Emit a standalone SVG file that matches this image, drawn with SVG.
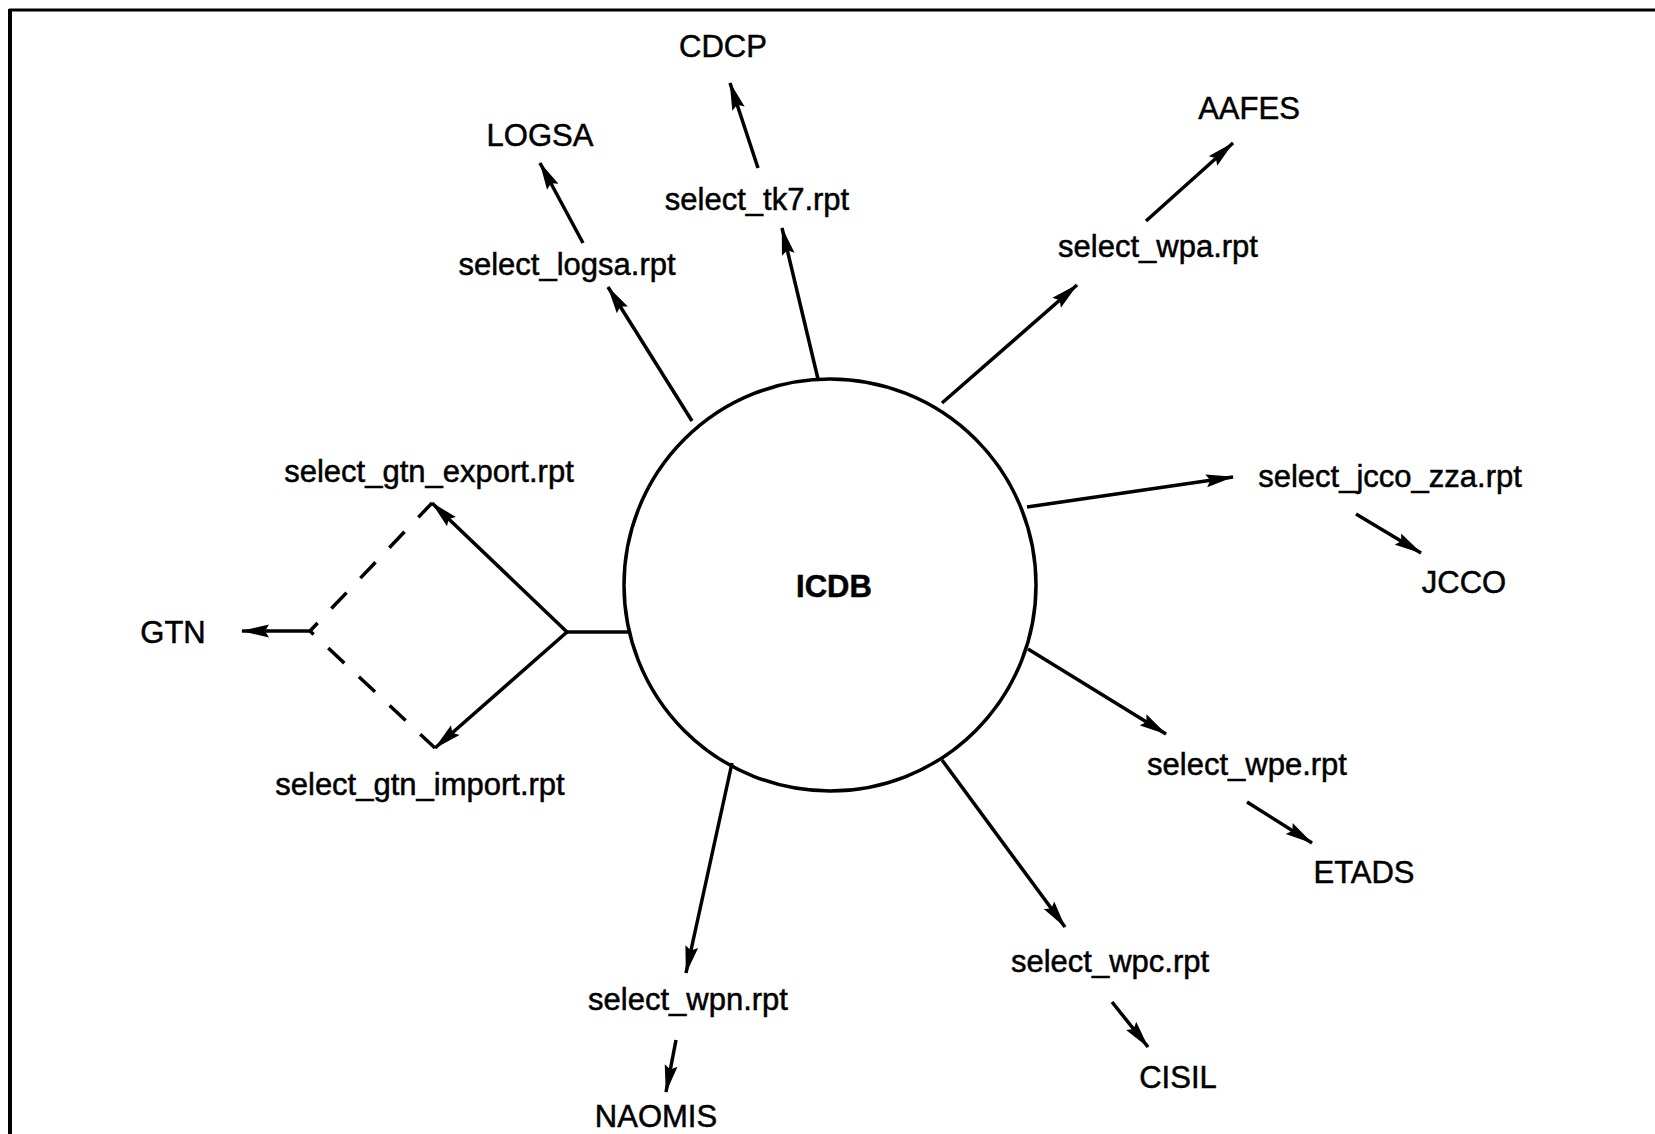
<svg xmlns="http://www.w3.org/2000/svg" width="1655" height="1134" viewBox="0 0 1655 1134">
<style>
  text { font-family: "Liberation Sans", Arial, sans-serif; font-size: 31px; fill: #000; stroke: #000; stroke-width: 0.5; text-anchor: middle; }
  .bold { font-weight: bold; }
  .ln { stroke: #000; stroke-width: 3.5; fill: none; }
  .arr { stroke: #000; stroke-width: 3.5; fill: none; marker-end: url(#ah); }
  .dash { stroke: #000; stroke-width: 3.5; fill: none; stroke-dasharray: 22 20; }
  .frame { stroke: #000; fill: none; }
</style>
<defs>
  <marker id="ah" viewBox="0 0 28 14" refX="27" refY="7" markerWidth="28" markerHeight="14" markerUnits="userSpaceOnUse" orient="auto">
    <path d="M0,0.5 L28,7 L0,13.5 L4,7 z" fill="#000"/>
  </marker>
</defs>
<rect x="0" y="0" width="1655" height="1134" fill="#fff"/>
<g id="frame">
  <line class="frame" x1="9" y1="10" x2="1655" y2="10" stroke-width="3"/>
  <line class="frame" x1="10" y1="9" x2="10" y2="1134" stroke-width="4"/>
</g>
<g id="connectors">
  <line class="arr" x1="692" y1="421" x2="608" y2="287"/>
  <line class="arr" x1="583" y1="243" x2="540" y2="163"/>
  <line class="arr" x1="818" y1="379" x2="782" y2="228"/>
  <line class="arr" x1="758" y1="168" x2="730" y2="83"/>
  <line class="arr" x1="942" y1="403" x2="1077" y2="285"/>
  <line class="arr" x1="1146" y1="221" x2="1233" y2="143"/>
  <line class="arr" x1="1027" y1="507" x2="1233" y2="477"/>
  <line class="arr" x1="1356" y1="514" x2="1421" y2="553"/>
  <line class="arr" x1="1028" y1="649" x2="1166" y2="734"/>
  <line class="arr" x1="1247" y1="802" x2="1312" y2="843"/>
  <line class="arr" x1="942" y1="760" x2="1065" y2="927"/>
  <line class="arr" x1="1112" y1="1002" x2="1148" y2="1047"/>
  <line class="arr" x1="732" y1="763" x2="686" y2="973"/>
  <line class="arr" x1="676" y1="1040" x2="666" y2="1092"/>
  <line class="ln" x1="628" y1="632" x2="567" y2="632"/>
  <line class="arr" x1="567" y1="632" x2="432" y2="503"/>
  <line class="arr" x1="567" y1="632" x2="435" y2="748"/>
  <line class="dash" x1="310" y1="631" x2="432" y2="503" stroke-dashoffset="11"/>
  <line class="dash" x1="310" y1="631" x2="435" y2="748" stroke-dashoffset="17"/>
  <line class="arr" x1="310" y1="631" x2="242" y2="631"/>
</g>
<g id="ICDB">
  <circle cx="830" cy="585" r="206" fill="none" stroke="#000" stroke-width="3.5"/>
  <text class="bold" x="834" y="597">ICDB</text>
</g>
<g id="CDCP"><text x="723" y="57">CDCP</text></g>
<g id="LOGSA"><text x="540" y="146">LOGSA</text></g>
<g id="AAFES"><text x="1249" y="119">AAFES</text></g>
<g id="select_tk7"><text x="757" y="210">select_tk7.rpt</text></g>
<g id="select_logsa"><text x="567" y="275">select_logsa.rpt</text></g>
<g id="select_wpa"><text x="1158" y="257">select_wpa.rpt</text></g>
<g id="select_gtn_export"><text x="429" y="482">select_gtn_export.rpt</text></g>
<g id="select_jcco_zza"><text x="1390" y="487">select_jcco_zza.rpt</text></g>
<g id="JCCO"><text x="1464" y="593">JCCO</text></g>
<g id="GTN"><text x="173" y="643">GTN</text></g>
<g id="select_gtn_import"><text x="420" y="795">select_gtn_import.rpt</text></g>
<g id="select_wpe"><text x="1247" y="775">select_wpe.rpt</text></g>
<g id="ETADS"><text x="1364" y="883">ETADS</text></g>
<g id="select_wpc"><text x="1110" y="972">select_wpc.rpt</text></g>
<g id="select_wpn"><text x="688" y="1010">select_wpn.rpt</text></g>
<g id="CISIL"><text x="1178" y="1088">CISIL</text></g>
<g id="NAOMIS"><text x="656" y="1127">NAOMIS</text></g>
</svg>
